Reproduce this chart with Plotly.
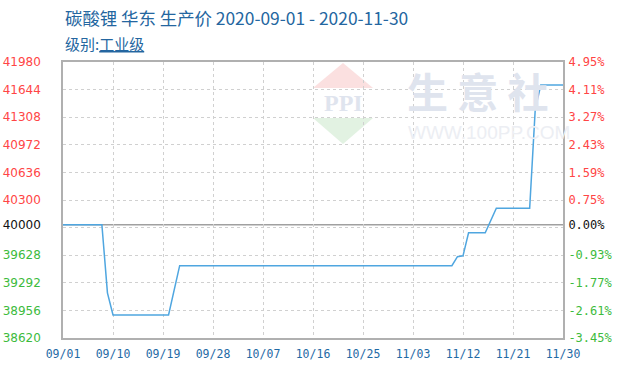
import plotly.graph_objects as go

# ---- data ----
dates = ["2020-09-01", "2020-09-08", "2020-09-09", "2020-09-10", "2020-09-20",
         "2020-09-21", "2020-09-22", "2020-11-10", "2020-11-11", "2020-11-12",
         "2020-11-13", "2020-11-16", "2020-11-17", "2020-11-18", "2020-11-24",
         "2020-11-25", "2020-11-26", "2020-11-30"]
prices = [40000, 40000, 39170, 38900, 38900,
          39220, 39500, 39500, 39610, 39620,
          39900, 39900, 40050, 40200, 40200,
          41400, 41700, 41700]

BASE = 40000
y_min, y_max = 38620, 41980
grid_vals = [38620, 38956, 39292, 39628, 39964, 40300, 40636, 40972, 41308, 41644, 41980]
label_vals = [38620, 38956, 39292, 39628, 40000, 40300, 40636, 40972, 41308, 41644, 41980]
x_ticks = ["2020-09-01", "2020-09-10", "2020-09-19", "2020-09-28", "2020-10-07",
           "2020-10-16", "2020-10-25", "2020-11-03", "2020-11-12", "2020-11-21",
           "2020-11-30"]
x_tick_text = ["09/01", "09/10", "09/19", "09/28", "10/07", "10/16", "10/25",
               "11/03", "11/12", "11/21", "11/30"]

RED, GREEN, BLACK = "#ff4545", "#3dbb3d", "#111111"


def col(v):
    return RED if v > BASE else (GREEN if v < BASE else BLACK)


left_text = [f"<span style='color:{col(v)}'>{v}</span>" for v in label_vals]
right_text = [f"<span style='color:{col(v)}'>{(v / BASE - 1) * 100:.2f}%</span>" for v in label_vals]

fig = go.Figure()

# dummy traces to activate other axes
fig.add_trace(go.Scatter(x=[dates[0]], y=[BASE], yaxis="y2", mode="markers",
                         marker=dict(opacity=0), hoverinfo="skip", showlegend=False))
fig.add_trace(go.Scatter(x=[dates[0]], y=[BASE], yaxis="y3", mode="markers",
                         marker=dict(opacity=0), hoverinfo="skip", showlegend=False))

fig.add_trace(go.Scatter(x=dates, y=prices, mode="lines",
                         line=dict(color="#4fa6e0", width=1.5), showlegend=False))

fig.update_layout(
    width=625, height=375,
    margin=dict(l=63, r=62, t=62, b=37, autoexpand=False),
    paper_bgcolor="white", plot_bgcolor="white",
    showlegend=False,
    xaxis=dict(
        type="date", range=["2020-09-01", "2020-11-30"],
        tickvals=x_ticks, ticktext=x_tick_text, automargin=False,
        tickfont=dict(family="DejaVu Sans Mono", size=11.5, color="#1f6aa5"),
        showgrid=True, gridcolor="#d0d0d0", griddash="dot", gridwidth=1,
        showline=True, linecolor="#b0b0b0", linewidth=1.5, mirror=True,
        ticks="outside", ticklen=4, tickcolor="rgba(0,0,0,0)", zeroline=False,
    ),
    yaxis=dict(
        range=[y_min, y_max], tickvals=label_vals, ticktext=left_text,
        tickfont=dict(family="DejaVu Sans", size=12), automargin=False,
        showgrid=False, zeroline=False,
        showline=True, linecolor="#b0b0b0", linewidth=1.5, mirror=True,
        ticks="outside", ticklen=18, tickcolor="rgba(0,0,0,0)",
    ),
    yaxis2=dict(
        range=[y_min, y_max], tickvals=label_vals, ticktext=right_text,
        overlaying="y", side="right", automargin=False,
        tickfont=dict(family="DejaVu Sans Mono", size=12),
        showgrid=False, zeroline=False, showline=False,
        ticks="outside", ticklen=2, tickcolor="rgba(0,0,0,0)",
    ),
    yaxis3=dict(
        range=[y_min, y_max], tickvals=grid_vals, overlaying="y", automargin=False,
        showticklabels=False, showgrid=True, gridcolor="#d0d0d0",
        griddash="dot", gridwidth=1, zeroline=False, showline=False,
    ),
)

# baseline at 40000
fig.add_shape(type="line", xref="paper", x0=0, x1=1, yref="y", y0=BASE, y1=BASE,
              line=dict(color="#a0a0a0", width=1.5), layer="below")

# watermark logo triangles
fig.add_shape(type="path", xref="paper", yref="paper",
              path="M 0.56 0.996 L 0.62 0.906 L 0.50 0.906 Z",
              fillcolor="#fbe0e0", line=dict(width=0), layer="below")
fig.add_shape(type="path", xref="paper", yref="paper",
              path="M 0.50 0.797 L 0.62 0.797 L 0.56 0.703 Z",
              fillcolor="#e2f2e2", line=dict(width=0), layer="below")

wm = "#dfe4ee"
fig.add_annotation(text="<b>PPI</b>", xref="paper", yref="paper", x=0.56, y=0.85,
                   showarrow=False, font=dict(family="Liberation Serif", size=24, color=wm),
                   xanchor="center", yanchor="middle")
fig.add_annotation(text="<b>生 意 社</b>", xref="paper", yref="paper", x=0.684, y=0.90,
                   showarrow=False, font=dict(family="Noto Sans CJK SC", size=41, color=wm),
                   xanchor="left", yanchor="middle")
fig.add_annotation(text="WWW.100PP.COM", xref="paper", yref="paper", x=0.686, y=0.746,
                   showarrow=False, font=dict(family="Liberation Sans", size=19, color="#eceef3"),
                   xanchor="left", yanchor="middle")

# titles
title_col = "#2466a0"
fig.add_annotation(text="碳酸锂 华东 生产价 2020-09-01 - 2020-11-30", xref="paper", yref="paper",
                   x=0.0, y=(338 - 18) / 276, xanchor="left", yanchor="middle", showarrow=False,
                   font=dict(family="Noto Sans CJK SC", size=17.4, color=title_col))
fig.add_annotation(text="级别:<span style='text-decoration:underline'>工业级</span>",
                   xref="paper", yref="paper",
                   x=0.0, y=(338 - 44) / 276, xanchor="left", yanchor="middle", showarrow=False,
                   font=dict(family="Noto Sans CJK SC", size=15, color=title_col))

fig.write_html("out.html", config={"displayModeBar": False},
               post_script="document.body.style.margin='0px';document.body.style.overflow='hidden';")
